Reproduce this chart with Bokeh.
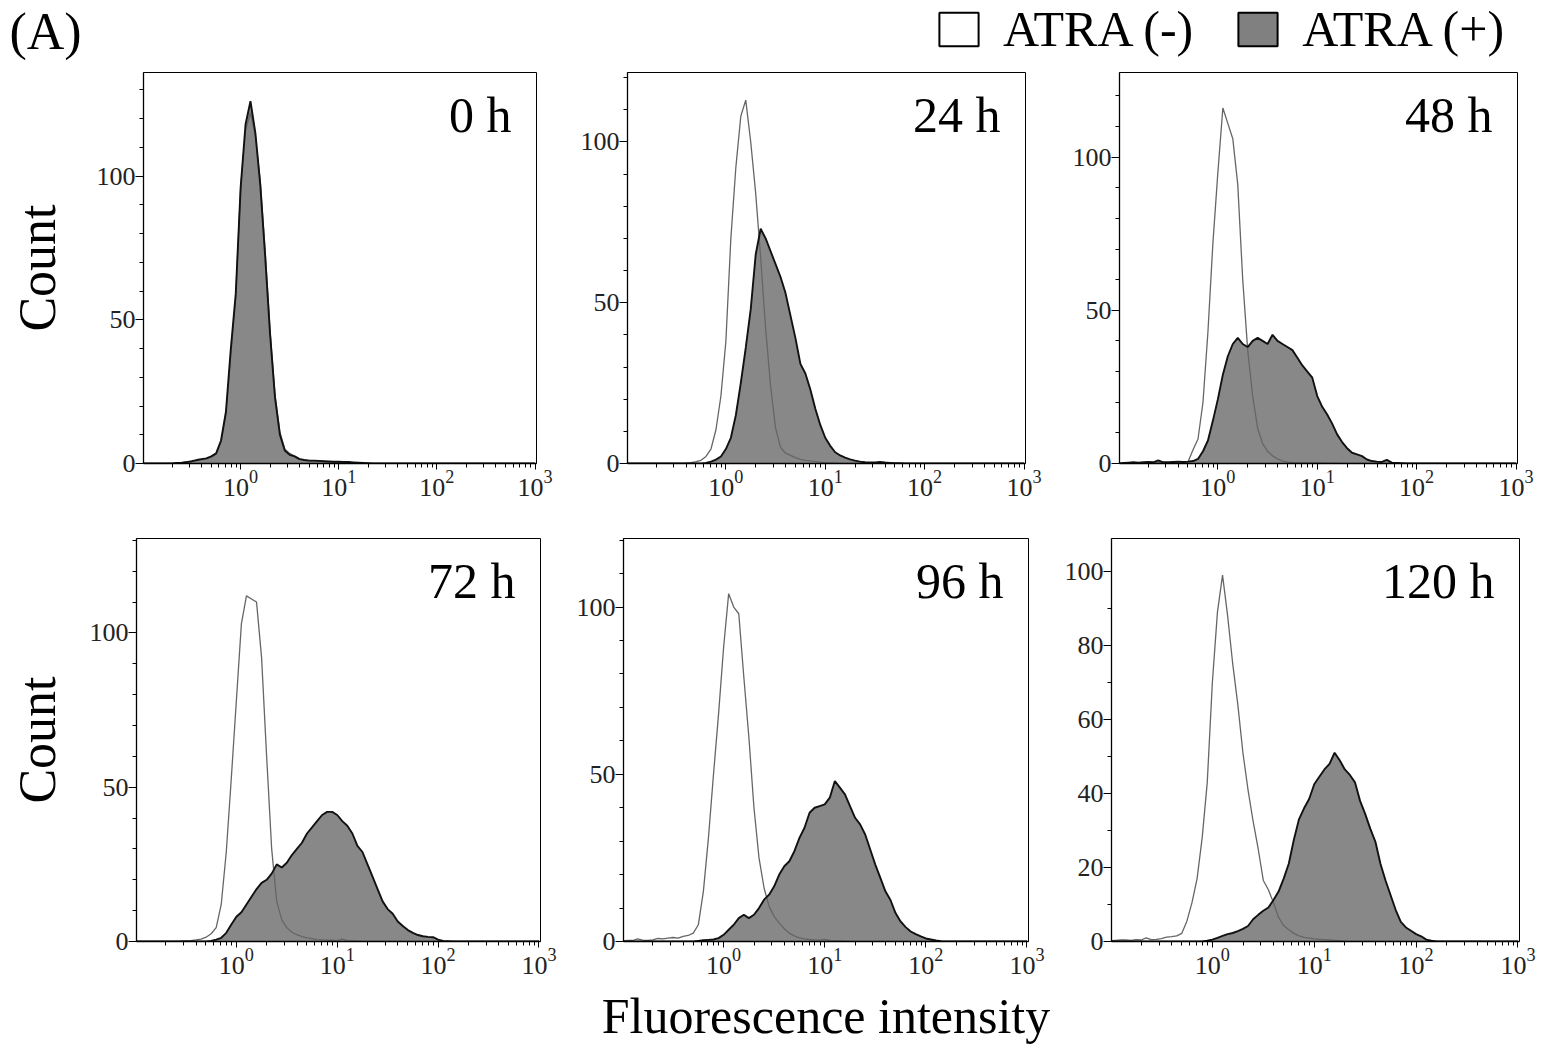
from bokeh.plotting import figure
from bokeh.models import Range1d, FixedTicker, Label, Legend, LegendItem
from bokeh.layouts import row, column
from bokeh.embed import file_html
from bokeh.resources import INLINE

# ---------------- data ----------------
# channel positions (log10 of fluorescence intensity)
LOG_FL = [-1.00, -0.95, -0.90, -0.85, -0.80, -0.75, -0.70, -0.65, -0.60, -0.55,
          -0.50, -0.45, -0.40, -0.35, -0.30, -0.25, -0.20, -0.15, -0.10, -0.05,
          0.00, 0.05, 0.10, 0.15, 0.20, 0.25, 0.30, 0.35, 0.40, 0.45,
          0.50, 0.55, 0.60, 0.65, 0.70, 0.75, 0.80, 0.85, 0.90, 0.95,
          1.00, 1.05, 1.10, 1.15, 1.20, 1.25, 1.30, 1.35, 1.40, 1.45,
          1.50, 1.55, 1.60, 1.65, 1.70, 1.75, 1.80, 1.85, 1.90, 1.95,
          2.00, 2.05, 2.10, 2.15, 2.20, 2.25, 2.30, 2.35, 2.40, 2.45,
          2.50, 2.55, 2.60, 2.65, 2.70, 2.75, 2.80, 2.85, 2.90, 2.95,
          3.00]

TIMES = ["0 h", "24 h", "48 h", "72 h", "96 h", "120 h"]

H0_NEG = [0, 0, 0, 0, 0, 0, 0, 0.2, 0.3, 0.4,
          0.6, 1.0, 1.3, 1.6, 2.2, 3.2, 7.5, 17, 38, 58,
          96, 116, 122, 114, 98, 74, 46, 24, 11, 5,
          3.5, 2.6, 1.6, 1.2, 1.0, 0.9, 0.8, 0.7, 0.6, 0.5,
          0.5, 0.4, 0.4, 0.3, 0.2, 0.1, 0, 0, 0, 0,
          0, 0, 0, 0, 0, 0, 0, 0, 0, 0,
          0, 0, 0, 0, 0, 0, 0, 0, 0, 0,
          0, 0, 0, 0, 0, 0, 0, 0, 0, 0,
          0]
H0_POS = [0, 0, 0, 0, 0, 0, 0, 0.2, 0.3, 0.5,
          0.8, 1.2, 1.5, 1.8, 2.5, 3.5, 8, 18, 40, 59,
          96, 118, 126, 115, 97, 72, 45, 23, 10, 4.5,
          3.0, 2.5, 1.5, 1.2, 1.0, 1.0, 0.9, 0.8, 0.7, 0.6,
          0.6, 0.5, 0.5, 0.4, 0.3, 0.2, 0.1, 0, 0, 0,
          0, 0, 0, 0, 0, 0, 0, 0, 0, 0,
          0, 0, 0, 0, 0, 0, 0, 0, 0, 0,
          0, 0, 0, 0, 0, 0, 0, 0, 0, 0,
          0]
H24_NEG = [0, 0, 0, 0, 0, 0, 0, 0, 0, 0,
           0, 0, 0.1, 0.3, 0.6, 1.0, 2.2, 4.5, 10.5, 21,
           38, 70, 92, 108, 113, 100, 84, 64, 42, 24,
           11, 5, 3.2, 2.5, 1.8, 1.3, 1.0, 0.8, 0.6, 0.4,
           0.3, 0.2, 0.1, 0, 0, 0, 0, 0, 0, 0,
           0, 0, 0, 0, 0, 0, 0, 0, 0, 0,
           0, 0, 0, 0, 0, 0, 0, 0, 0, 0,
           0, 0, 0, 0, 0, 0, 0, 0, 0, 0,
           0]
H24_POS = [0, 0, 0, 0, 0, 0, 0, 0, 0, 0,
           0, 0, 0, 0, 0, 0, 0.2, 0.6, 1.2, 2.2,
           4.5, 8, 15, 25, 36, 48, 65, 73, 70, 66,
           62, 58, 53, 46, 39, 31, 28, 23, 17, 12,
           8, 5.5, 3.5, 2.5, 1.8, 1.3, 0.9, 0.6, 0.4, 0.3,
           0.3, 0.5, 0.3, 0.2, 0.1, 0.1, 0, 0, 0, 0,
           0, 0, 0, 0, 0, 0, 0, 0, 0, 0,
           0, 0, 0, 0, 0, 0, 0, 0, 0, 0,
           0]
H48_NEG = [0, 0, 0.2, 0.2, 0.3, 0.2, 0.2, 0.3, 0.2, 0.2,
           0.3, 0.2, 0.3, 0.2, 0.6, 4.5, 8, 20, 43, 72,
           95, 116, 111, 106, 91, 60, 37, 22, 11.5, 6.5,
           4, 2.5, 1.5, 0.8, 0.5, 0.3, 0.2, 0.2, 0.2, 0.2,
           0.2, 0.2, 0.1, 0.1, 0.1, 0, 0, 0, 0, 0,
           0, 0, 0, 0, 0, 0, 0, 0, 0, 0,
           0, 0, 0, 0, 0, 0, 0, 0, 0, 0,
           0, 0, 0, 0, 0, 0, 0, 0, 0, 0,
           0]
H48_POS = [0, 0.2, 0.3, 0.4, 0.3, 0.4, 0.5, 0.4, 1.0, 0.4,
           0.4, 0.5, 0.6, 0.5, 0.6, 0.8, 1.5, 4, 7.5, 14,
           21, 29, 35, 39, 41, 39, 38, 40, 41, 40,
           39, 42, 40, 39, 38, 37, 34.5, 32, 30, 28,
           22, 18.5, 16, 13, 9.5, 7, 5, 3.5, 3, 2.4,
           1.3, 0.8, 0.6, 0.5, 1.2, 0.3, 0.2, 0.1, 0, 0,
           0, 0, 0, 0, 0, 0, 0, 0, 0, 0,
           0, 0, 0, 0, 0, 0, 0, 0, 0, 0,
           0]
H72_NEG = [0, 0, 0, 0, 0, 0, 0, 0, 0, 0.1,
           0.2, 0.3, 0.5, 0.8, 1.4, 2.5, 4.5, 12, 29, 53,
           78, 103, 112, 111, 110, 92, 60, 30, 13, 7,
           4.5, 3, 2.2, 1.6, 1.2, 0.9, 0.6, 0.5, 0.4, 0.4,
           0.3, 0.8, 0.3, 0.2, 0.1, 0, 0, 0, 0, 0,
           0, 0, 0, 0, 0, 0, 0, 0, 0, 0,
           0, 0, 0, 0, 0, 0, 0, 0, 0, 0,
           0, 0, 0, 0, 0, 0, 0, 0, 0, 0,
           0]
H72_POS = [0, 0, 0, 0, 0, 0, 0, 0, 0, 0,
           0, 0, 0, 0, 0, 0.2, 0.6, 1.2, 2.8, 5.5,
           8, 9.5, 12, 14.5, 17, 19, 20, 22, 25, 24,
           25.5, 28, 30, 32, 35, 37, 39, 41, 42, 42,
           41, 39, 37.5, 35, 31, 29, 25, 21, 17, 13,
           10.5, 9, 6.5, 5, 3.7, 2.8, 2.1, 1.7, 1.5, 1.4,
           0.6, 0.2, 0.1, 0, 0, 0, 0, 0, 0, 0,
           0, 0, 0, 0, 0, 0, 0, 0, 0, 0,
           0]
H96_NEG = [0.2, 0.3, 0.3, 0.8, 0.4, 0.3, 0.5, 0.9, 0.8, 1.0,
           1.2, 1.0, 1.5, 1.8, 2.5, 5, 15, 31, 50, 68,
           88, 104, 100, 98, 79, 61, 40, 25, 16, 10.5,
           7.5, 5.5, 3.8, 2.5, 1.7, 1.1, 0.8, 0.6, 0.5, 0.4,
           0.6, 0.3, 0.2, 0.2, 0.1, 0, 0, 0, 0, 0,
           0, 0, 0, 0, 0, 0, 0, 0, 0, 0,
           0, 0, 0, 0, 0, 0, 0, 0, 0, 0,
           0, 0, 0, 0, 0, 0, 0, 0, 0, 0,
           0]
H96_POS = [0, 0, 0, 0, 0, 0, 0, 0, 0, 0,
           0, 0, 0, 0, 0, 0.2, 0.4, 0.5, 0.6, 1.0,
           2, 3.5, 5, 7, 8, 7, 8, 10, 12.5, 14,
           16.5, 20, 22.5, 24, 27, 31, 34, 38.5, 40, 40.5,
           41, 43, 48, 46, 44, 40.5, 37, 35, 32, 27.5,
           23, 19, 15, 12.4, 8.5, 6, 4.3, 3, 2.2, 1.5,
           0.9, 0.6, 0.3, 0.1, 0, 0, 0, 0, 0, 0,
           0, 0, 0, 0, 0, 0, 0, 0, 0, 0,
           0]
H120_NEG = [0.2, 0.3, 0.4, 0.4, 0.3, 0.5, 0.4, 1.0, 0.5, 0.6,
            0.8, 1.2, 1.3, 1.5, 2.2, 5.5, 10.5, 17, 28, 43,
            70, 89, 99, 88, 75, 64, 51, 41, 32.5, 25,
            16.5, 14, 10.5, 6.5, 4.3, 3.2, 2.2, 1.5, 1.1, 0.9,
            0.7, 0.6, 0.5, 0.4, 0.3, 0.2, 0.1, 0, 0, 0,
            0, 0, 0, 0, 0, 0, 0, 0, 0, 0,
            0, 0, 0, 0, 0, 0, 0, 0, 0, 0,
            0, 0, 0, 0, 0, 0, 0, 0, 0, 0,
            0]
H120_POS = [0, 0, 0, 0, 0, 0, 0, 0, 0, 0,
            0, 0, 0, 0, 0, 0, 0, 0, 0, 0.2,
            0.5, 1.0, 1.5, 2.0, 2.3, 2.8, 3.4, 4.2, 6, 7.2,
            8.3, 9.2, 11.2, 13.5, 17, 21, 27.5, 33, 36, 38.5,
            42.5, 44.5, 46.5, 48, 51, 49, 46.5, 45, 43, 38,
            34.5, 30.5, 27, 21, 16.5, 12.5, 8.5, 5.3, 3.8, 2.9,
            2.0, 1.4, 0.5, 0.2, 0, 0, 0, 0, 0, 0,
            0, 0, 0, 0, 0, 0, 0, 0, 0, 0,
            0]

SERIES_NEG = [H0_NEG, H24_NEG, H48_NEG, H72_NEG, H96_NEG, H120_NEG]
SERIES_POS = [H0_POS, H24_POS, H48_POS, H72_POS, H96_POS, H120_POS]

Y_MAX = [136, 121.6, 127.6, 130.6, 120.5, 108.9]
Y_MAJOR = [[0, 50, 100], [0, 50, 100], [0, 50, 100], [0, 50, 100], [0, 50, 100],
           [0, 20, 40, 60, 80, 100]]
Y_MINOR = [[10, 20, 30, 40, 60, 70, 80, 90, 110, 120, 130]] * 5 + [[10, 30, 50, 70, 90]]
X_MAJOR = [1, 10, 100, 1000]
X_MINOR = [0.2, 0.3, 0.4, 0.5, 0.6, 0.7, 0.8, 0.9,
           2, 3, 4, 5, 6, 7, 8, 9,
           20, 30, 40, 50, 60, 70, 80, 90,
           200, 300, 400, 500, 600, 700, 800, 900]

# ---------------- style / layout ----------------
FONT = "Liberation Serif"
FILL = "#888888"
NEG_LINE = "#666666"
POS_LINE = "#111111"
TICK_COLOR = "#222222"

# (width, height, border left, right, top, bottom)
GEOM = [(560, 448, 143, 24, 2, 53),
        (490, 448, 67, 25, 4, 49),
        (493, 448, 69, 26, 4, 47),
        (558, 530, 136, 18, 22, 103),
        (503, 530, 65, 33, 21, 104),
        (482, 530, 50, 24, 18, 103)]

FL = [10 ** v for v in LOG_FL]
ZERO = [0] * len(FL)


def make_panel(i):
    w, h, bl, br, bt, bb = GEOM[i]
    p = figure(width=w, height=h, x_axis_type="log",
               x_range=Range1d(10 ** -0.99, 10 ** 3.015),
               y_range=Range1d(0, Y_MAX[i]),
               min_border_left=bl, min_border_right=br,
               min_border_top=bt, min_border_bottom=bb,
               toolbar_location=None, output_backend="svg", title=None)
    p.xgrid.visible = False
    p.ygrid.visible = False
    p.outline_line_color = "black"
    p.outline_line_width = 1
    p.background_fill_color = "white"
    p.border_fill_color = "white"

    p.varea(x=FL, y1=ZERO, y2=SERIES_POS[i], fill_color=FILL)
    p.line(x=FL, y=SERIES_NEG[i], line_color=NEG_LINE, line_width=1.3)
    p.line(x=FL, y=SERIES_POS[i], line_color=POS_LINE, line_width=1.9)

    xa = p.xaxis[0]
    xa.ticker = FixedTicker(ticks=X_MAJOR, minor_ticks=X_MINOR)
    xa.major_tick_in = 0
    xa.major_tick_out = 6
    xa.minor_tick_in = 0
    xa.minor_tick_out = 4
    xa.axis_line_color = "black"
    xa.axis_line_width = 1.3
    xa.major_tick_line_color = "black"
    xa.minor_tick_line_color = "black"
    xa.major_label_text_font = FONT
    xa.major_label_text_font_size = "26px"
    xa.major_label_text_color = TICK_COLOR
    xa.major_label_standoff = 1

    ya = p.yaxis[0]
    ya.ticker = FixedTicker(ticks=Y_MAJOR[i], minor_ticks=Y_MINOR[i])
    ya.major_tick_in = 0
    ya.major_tick_out = 8
    ya.minor_tick_in = 0
    ya.minor_tick_out = 4
    ya.axis_line_color = "black"
    ya.axis_line_width = 1.3
    ya.major_tick_line_color = "black"
    ya.minor_tick_line_color = "black"
    ya.major_label_text_font = FONT
    ya.major_label_text_font_size = "26px"
    ya.major_label_text_color = TICK_COLOR
    ya.major_label_standoff = 0

    p.add_layout(Label(x=10 ** 3.015, y=Y_MAX[i], x_offset=-25, y_offset=-42,
                       text=TIMES[i], text_align="right", text_baseline="alphabetic",
                       text_font=FONT, text_font_size="50px", text_color="black"))
    return p


panels = [make_panel(i) for i in range(6)]

for idx, standoff in ((0, 28), (3, 21)):
    ya = panels[idx].yaxis[0]
    ya.axis_label = "Count"
    ya.axis_label_text_font = FONT
    ya.axis_label_text_font_size = "52px"
    ya.axis_label_text_font_style = "normal"
    ya.axis_label_text_color = "black"
    ya.axis_label_standoff = standoff

xa5 = panels[4].xaxis[0]
xa5.axis_label = "Fluorescence intensity"
xa5.axis_label_text_font = FONT
xa5.axis_label_text_font_size = "50px"
xa5.axis_label_text_font_style = "normal"
xa5.axis_label_text_color = "black"
xa5.axis_label_standoff = 11

# header with panel tag and legend
header = figure(width=1543, height=68, x_range=Range1d(0, 1543), y_range=Range1d(0, 68),
                min_border=0, toolbar_location=None, output_backend="svg", title=None,
                x_axis_location=None, y_axis_location=None)
header.xgrid.visible = False
header.ygrid.visible = False
header.outline_line_color = None
header.background_fill_color = "white"
header.border_fill_color = "white"

r_neg = header.quad(left=[0], right=[0], top=[0], bottom=[0], fill_color="white",
                    line_color="black", line_width=2)
r_pos = header.quad(left=[0], right=[0], top=[0], bottom=[0], fill_color="#808080",
                    line_color="black", line_width=2)
r_neg.visible = False
r_pos.visible = False
legend = Legend(items=[LegendItem(label="ATRA (-)", renderers=[r_neg]),
                       LegendItem(label="ATRA (+)", renderers=[r_pos])],
                orientation="horizontal", location=(934, 10),
                glyph_width=49, glyph_height=42, label_standoff=20, spacing=40,
                padding=0, margin=0, label_text_font=FONT, label_text_font_size="50px",
                label_text_color="black", background_fill_alpha=0, border_line_alpha=0,
                inactive_fill_alpha=0)
header.add_layout(legend)

header.add_layout(Label(x=9, y=37, text="(A)", text_font=FONT, text_font_size="52px",
                        text_color="black", text_baseline="alphabetic"))

layout = column(header, row(panels[0], panels[1], panels[2]),
                row(panels[3], panels[4], panels[5]))

open("out.html", "w").write(file_html(layout, INLINE))
